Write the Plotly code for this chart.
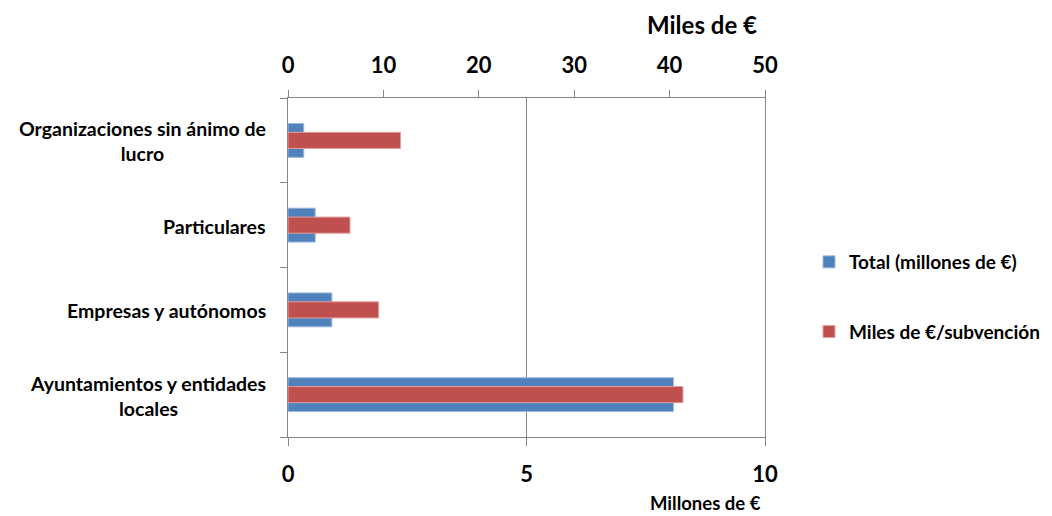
import plotly.graph_objects as go

# Data (bottom category first, as in the source chart)
categories = ["Ayuntamientos y entidades locales", "Empresas y autónomos",
              "Particulares", "Organizaciones sin ánimo de lucro"]
category_labels = ["Ayuntamientos y entidades<br>locales", "Empresas y autónomos",
                   "Particulares", "Organizaciones sin ánimo de<br>lucro"]
total_millones = [8.08, 0.92, 0.57, 0.33]
miles_por_subvencion = [41.4, 9.5, 6.5, 11.8]
series_names = ["Total (millones de €)", "Miles de €/subvención"]
bottom_ticks = [0, 5, 10]
top_ticks = [0, 10, 20, 30, 40, 50]

FONT = "Lato"
AX = "#868686"
BLUE = "#4F81BD"
RED = "#C0504D"

# page offset of the figure (default body margin)
OFF = 8
W, H = 1052 - OFF, 516 - OFF
# plot-area geometry in page pixels
L, R, T, B = 288, 765, 98, 437
PW, PH = R - L, B - T


def px_x(x):
    return (x - L) / PW


def px_y(y):
    return (B - y) / PH


fig = go.Figure()
fig.add_trace(go.Bar(
    y=categories, x=total_millones, orientation="h", name=series_names[0],
    xaxis="x", yaxis="y", width=0.4,
    marker=dict(color=BLUE, line=dict(color="#9db8dd", width=1)),
    legendgroup="a",
))
fig.add_trace(go.Bar(
    y=categories, x=miles_por_subvencion, orientation="h", name=series_names[1],
    xaxis="x2", yaxis="y", width=0.19,
    marker=dict(color=RED, line=dict(color="#e0a09e", width=1)),
    legendgroup="b",
))

annotations = []
for cat, lab in zip(categories, category_labels):
    annotations.append(dict(
        x=0, xref="paper", y=cat, yref="y", text=lab, showarrow=False,
        xanchor="right", yanchor="middle", align="center", xshift=-20, yshift=-1,
        font=dict(family=FONT, size=19.5, color="black", weight="bold"),
    ))
annotations.append(dict(
    x=px_x(702), xref="paper", y=px_y(25), yref="paper",
    text="Miles de €", showarrow=False, xanchor="center", yanchor="middle",
    font=dict(family=FONT, size=24, color="black", weight="bold"),
))
annotations.append(dict(
    x=px_x(705), xref="paper", y=px_y(503), yref="paper",
    text="Millones de €", showarrow=False, xanchor="center", yanchor="middle",
    font=dict(family=FONT, size=18.5, color="black", weight="bold"),
))

fig.update_layout(
    width=W, height=H,
    margin=dict(l=L - OFF, r=1052 - R, t=T - OFF, b=516 - B, autoexpand=False),
    paper_bgcolor="white", plot_bgcolor="white",
    barmode="overlay",
    showlegend=True,
    legend=dict(
        x=px_x(809), xanchor="left",
        y=px_y(243), yanchor="top",
        traceorder="grouped", tracegroupgap=42,
        font=dict(family=FONT, size=19, color="black", weight="bold"),
        bgcolor="rgba(0,0,0,0)",
    ),
    xaxis=dict(
        range=[0, 10], tickvals=bottom_ticks, showgrid=True, gridcolor=AX, gridwidth=1,
        showline=True, linecolor=AX, linewidth=1, ticks="outside", ticklen=8,
        tickcolor=AX, zeroline=False, ticklabelstandoff=10,
        tickfont=dict(family=FONT, size=22, color="black", weight="bold"),
    ),
    xaxis2=dict(
        range=[0, 50], tickvals=top_ticks, overlaying="x", side="top", anchor="y",
        showgrid=False, showline=True, linecolor=AX, linewidth=1, ticks="outside",
        ticklen=7, tickcolor=AX, zeroline=False, ticklabelstandoff=8,
        tickfont=dict(family=FONT, size=22, color="black", weight="bold"),
    ),
    yaxis=dict(
        type="category", categoryorder="array", categoryarray=categories,
        showticklabels=False, tickson="boundaries", ticks="outside", ticklen=7,
        tickcolor=AX, showline=True, linecolor=AX, linewidth=1, mirror=True,
        showgrid=False,
    ),
    annotations=annotations,
)

fig.write_html("out.html")
